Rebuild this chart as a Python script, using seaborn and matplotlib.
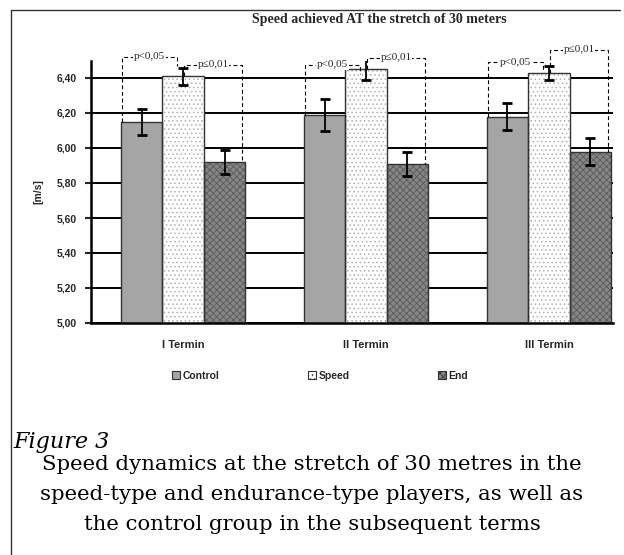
import matplotlib

matplotlib.use("Agg")

import matplotlib.pyplot as plt
import pandas as pd
import seaborn as sns
from matplotlib.lines import Line2D
from matplotlib.patches import Patch

terms = ["I Termin", "II Termin", "III Termin"]
groups = ["Control", "Speed", "End"]
control = [6.15, 6.19, 6.18]
speed = [6.41, 6.45, 6.43]
end = [5.92, 5.91, 5.98]
control_err = [0.075, 0.09, 0.075]
speed_err = [0.05, 0.06, 0.04]
end_err = [0.07, 0.07, 0.075]
p05_height = [6.52, 6.475, 6.49]
p01_height = [6.475, 6.515, 6.56]
y_ticks = [5.0, 5.2, 5.4, 5.6, 5.8, 6.0, 6.2, 6.4]

title = "Speed achieved AT the stretch of 30 meters"
caption = [
    "Speed dynamics at the stretch of 30 metres in the",
    "speed-type and endurance-type players, as well as",
    "the control group in the subsequent terms",
]

df = pd.DataFrame(
    {
        "term": terms * 3,
        "group": [g for g in groups for _ in terms],
        "speed": control + speed + end,
        "err": control_err + speed_err + end_err,
    }
)

sns.set_style("white")
plt.rcParams["hatch.linewidth"] = 0.6

fig = plt.figure(figsize=(6.24, 5.55), dpi=100)
ax = fig.add_axes([91 / 624, 1 - 323 / 555, 522 / 624, 262.5 / 555])

face = {"Control": "#a5a5a5", "Speed": "#ffffff", "End": "#858585"}
sns.barplot(
    data=df, x="term", y="speed", hue="group", hue_order=groups, order=terms,
    palette=face, width=0.68, errorbar=None, legend=False, ax=ax, zorder=2,
)

hatch = {"Control": None, "Speed": "....", "End": "xxxxx"}
hatch_edge = {"Control": "#555555", "Speed": "#b0b0b0", "End": "#5a5a5a"}
for cont, g in zip(ax.containers, groups):
    for bar in cont:
        bar.set_hatch(hatch[g])
        bar.set_edgecolor(hatch_edge[g])
        bar.set_linewidth(0.6)
        # outline on top
        ax.add_patch(plt.Rectangle((bar.get_x(), bar.get_y()), bar.get_width(), bar.get_height(),
                                   fill=False, edgecolor="#333333", linewidth=1.0, zorder=3))

for cont, g in zip(ax.containers, groups):
    sub = df[df["group"] == g].set_index("term").loc[terms]
    xs = [b.get_x() + b.get_width() / 2 for b in cont]
    ax.errorbar(xs, sub["speed"], yerr=sub["err"], fmt="none", ecolor="black",
                elinewidth=1.3, capsize=3.5, capthick=2.0, zorder=4)

ax.set_ylim(5.0, 6.5)
ax.set_xlim(-0.503, 2.35)
ax.set_yticks(y_ticks)
ax.set_yticklabels([f"{v:.2f}".replace(".", ",") for v in y_ticks],
                   fontsize=7.5, fontweight="bold", family="Liberation Sans")
ax.set_xticks([0, 1, 2])
ax.set_xticklabels(terms, fontsize=8, fontweight="bold", family="Liberation Sans")
ax.set_xticks([0.5, 1.5], minor=True)
ax.tick_params(axis="x", which="major", length=0, pad=12)
ax.tick_params(axis="x", which="minor", length=3, width=1.2, direction="out")
ax.tick_params(axis="y", length=4, width=1.5, direction="out", pad=6, left=True)
ax.set_xlabel("")
ax.set_ylabel("[m/s]", fontsize=7.5, fontweight="bold", family="Liberation Sans")
ax.yaxis.set_label_coords(-0.092, 0.5)

ax.grid(axis="y", color="black", linewidth=1.4)
ax.set_axisbelow(True)
for side in ["top", "right"]:
    ax.spines[side].set_visible(False)
for side in ["left", "bottom"]:
    ax.spines[side].set_color("black")
    ax.spines[side].set_linewidth(1.8)

# significance brackets
dash = dict(color="black", linestyle=(0, (3.5, 2.5)), linewidth=0.8, clip_on=False, zorder=5)
txt = dict(fontsize=8, family="Liberation Serif", ha="center", va="center", zorder=6,
           bbox=dict(facecolor="white", edgecolor="none", pad=0.5))
for j in range(len(terms)):
    c, s, e = ax.containers[0][j], ax.containers[1][j], ax.containers[2][j]
    top_c = c.get_height() + c.get_y()
    top_s = s.get_height() + s.get_y()
    top_e = e.get_height() + e.get_y()

    x1, x2, h = c.get_x() + 0.005, s.get_x() + 0.08, p05_height[j]
    ax.plot([x1, x1, x2, x2], [top_c, h, h, h - 0.05], **dash)
    ax.text((x1 + x2) / 2, h, "p<0,05", **txt)

    x1, x2, h = s.get_x() + 0.12, e.get_x() + e.get_width() - 0.02, p01_height[j]
    ax.plot([x1, x1, x2, x2], [top_s, h, h, top_e], **dash)
    ax.text((x1 + x2) / 2, h, "p\u22640,01", **txt)

fig.text(379 / 624, 1 - 20 / 555, title, ha="center", va="center", fontsize=10,
         fontweight="bold", family="Liberation Serif")

handles = [Patch(facecolor=face[g], edgecolor="#333333", hatch=hatch[g], linewidth=0.8) for g in groups]
fig.legend(handles, groups, loc="center", bbox_to_anchor=(320 / 624, 1 - 376 / 555), ncol=3,
           frameon=False, handlelength=0.8, handleheight=0.8, handletextpad=0.2,
           columnspacing=8.5, prop=dict(size=7.5, weight="bold", family="Liberation Sans"))

# frame around the chart
fig.add_artist(Line2D([11 / 624, 11 / 624], [0, 1 - 10 / 555], transform=fig.transFigure,
                      color="#333333", linewidth=1.0))
fig.add_artist(Line2D([11 / 624, 620 / 624], [1 - 10 / 555, 1 - 10 / 555], transform=fig.transFigure,
                      color="#333333", linewidth=1.0))

fig.text(13 / 624, 1 - 442 / 555, "Figure 3", ha="left", va="center", fontsize=16,
         fontstyle="italic", family="DejaVu Serif", color="black")
for k, line in enumerate(caption):
    fig.text(312 / 624, 1 - (465 + 30 * k) / 555, line, ha="center", va="center",
             fontsize=15.3, family="DejaVu Serif", color="black")

fig.savefig("out.png", dpi=100, facecolor="white")
